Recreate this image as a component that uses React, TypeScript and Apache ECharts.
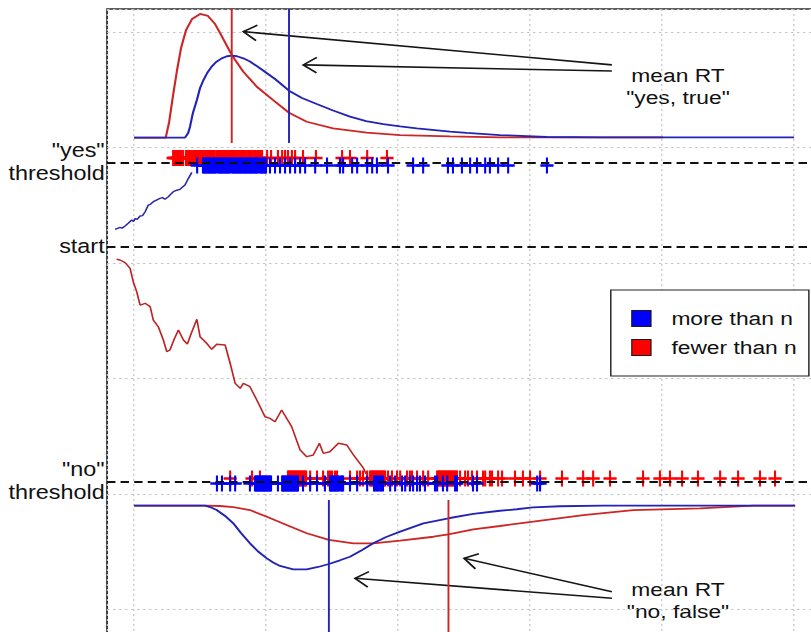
import React, { useEffect, useRef } from "react";
import * as echarts from "echarts";

// The original picture is horizontally stretched; the chart is drawn at 676px and stretched by SX.
const SX = 1.2;
const FONT = "'Liberation Sans', Arial, Helvetica, sans-serif";

// ---- axes (x: time in s, y: evidence in grid units) ----
const xMin = -0.1023;
const xMax = 3.0;
const yMin = -2.4;
const yMax = 3.2;

// ---- levels ----
const thresholdYes = 1.874;
const startLevel = 1.136;
const thresholdNo = -0.894;
const rugYesRedLevel = 1.909;
const rugYesBlueLevel = 1.844;
const rugNoRedLevel = -0.866;
const rugNoBlueLevel = -0.909;
const yesMeanLineFrom = 2.039;
const noMeanLineFrom = -1.052;

// ---- mean RTs ----
const meanYesBlue = 0.587;
const meanYesRed = 0.37;
const meanNoBlue = 0.738;
const meanNoRed = 1.191;

// ---- RT distributions, "yes" (upper) ----
const yesRedCurve = [
  [0, 2.085], [0.12, 2.085], [0.133, 2.221], [0.148, 2.455], [0.163, 2.671], [0.178, 2.861],
  [0.197, 3.017], [0.22, 3.113], [0.25, 3.156], [0.28, 3.139], [0.307, 3.069], [0.326, 2.991],
  [0.37, 2.801], [0.414, 2.656], [0.465, 2.526], [0.527, 2.411], [0.587, 2.301], [0.654, 2.223],
  [0.754, 2.166], [0.881, 2.128], [1.008, 2.108], [1.197, 2.097], [1.386, 2.088], [2.004, 2.088],
];
const yesBlueCurve = [
  [0, 2.085], [0.193, 2.085], [0.205, 2.126], [0.212, 2.18], [0.223, 2.299], [0.238, 2.411],
  [0.25, 2.515], [0.263, 2.584], [0.277, 2.645], [0.294, 2.7], [0.311, 2.74], [0.332, 2.772],
  [0.352, 2.79], [0.372, 2.795], [0.39, 2.79], [0.414, 2.772], [0.439, 2.745], [0.477, 2.686],
  [0.534, 2.593], [0.587, 2.492], [0.636, 2.429], [0.692, 2.377], [0.754, 2.32], [0.818, 2.267],
  [0.879, 2.229], [0.944, 2.203], [1.008, 2.182], [1.071, 2.166], [1.197, 2.137], [1.26, 2.126],
  [1.386, 2.108], [1.563, 2.091], [1.765, 2.088], [2.5, 2.088],
];

// ---- RT distributions, "no" (lower, drawn downward) ----
const noBlueCurve = [
  [0, -1.101], [0.269, -1.101], [0.288, -1.113], [0.313, -1.139], [0.345, -1.19], [0.376, -1.254],
  [0.405, -1.338], [0.439, -1.427], [0.47, -1.498], [0.503, -1.557], [0.527, -1.593], [0.553, -1.623],
  [0.603, -1.652], [0.654, -1.652], [0.697, -1.632], [0.738, -1.606], [0.78, -1.574], [0.818, -1.543],
  [0.864, -1.485], [0.906, -1.427], [0.955, -1.372], [1.008, -1.326], [1.096, -1.254], [1.191, -1.21],
  [1.285, -1.173], [1.386, -1.145], [1.45, -1.132], [1.511, -1.115], [1.614, -1.106], [1.777, -1.101],
  [2.504, -1.101],
];
const noRedCurve = [
  [0, -1.101], [0.269, -1.101], [0.326, -1.104], [0.376, -1.113], [0.439, -1.139], [0.503, -1.197],
  [0.578, -1.268], [0.654, -1.34], [0.738, -1.398], [0.831, -1.427], [0.906, -1.427], [1.008, -1.404],
  [1.134, -1.37], [1.191, -1.349], [1.285, -1.306], [1.386, -1.277], [1.512, -1.24], [1.702, -1.182],
  [1.891, -1.139], [2.144, -1.125], [2.346, -1.101], [2.504, -1.101],
];

// ---- sample diffusion paths ----
const pathBlue = [
  [-0.072, 1.292], [-0.053, 1.309], [-0.045, 1.302], [-0.034, 1.32], [-0.022, 1.344], [-0.009, 1.372],
  [-0.002, 1.36], [0.004, 1.384], [0.012, 1.378], [0.023, 1.407], [0.032, 1.41], [0.042, 1.444],
  [0.054, 1.502], [0.063, 1.51], [0.073, 1.531], [0.085, 1.545], [0.098, 1.56], [0.108, 1.566],
  [0.117, 1.552], [0.13, 1.574], [0.14, 1.598], [0.149, 1.617], [0.162, 1.63], [0.174, 1.638],
  [0.185, 1.66], [0.193, 1.675], [0.206, 1.733], [0.219, 1.785],
];
const pathRed = [
  [-0.066, 1.032], [-0.053, 1.026], [-0.034, 1.003], [-0.015, 0.954], [-0.003, 0.838], [0.01, 0.752],
  [0.023, 0.636], [0.042, 0.651], [0.061, 0.622], [0.073, 0.506], [0.092, 0.448], [0.111, 0.333],
  [0.124, 0.232], [0.136, 0.247], [0.152, 0.34], [0.168, 0.42], [0.187, 0.333], [0.202, 0.299],
  [0.219, 0.405], [0.238, 0.513], [0.25, 0.362], [0.275, 0.305], [0.294, 0.253], [0.313, 0.296],
  [0.345, 0.29], [0.364, 0.132], [0.383, -0.042], [0.402, -0.085], [0.414, -0.042], [0.439, -0.071],
  [0.465, -0.186], [0.496, -0.331], [0.515, -0.345], [0.534, -0.374], [0.559, -0.273], [0.597, -0.417],
  [0.629, -0.619], [0.654, -0.677], [0.679, -0.662], [0.702, -0.561], [0.717, -0.648], [0.742, -0.634],
  [0.774, -0.561], [0.806, -0.576], [0.831, -0.662], [0.869, -0.777], [0.879, -0.827],
];

// ---- single-trial RTs (rug marks) ----
const rtYesRed = [
  0.148, 0.151, 0.155, 0.159, 0.163, 0.166, 0.17, 0.174, 0.178, 0.186, 0.197, 0.201, 0.205, 0.209,
  0.212, 0.216, 0.223, 0.227, 0.231, 0.235, 0.239, 0.243, 0.246, 0.25, 0.254, 0.258, 0.262, 0.265,
  0.269, 0.273, 0.279, 0.284, 0.288, 0.292, 0.295, 0.299, 0.303, 0.311, 0.315, 0.318, 0.322, 0.326,
  0.33, 0.337, 0.341, 0.345, 0.351, 0.356, 0.361, 0.367, 0.371, 0.375, 0.381, 0.386, 0.392, 0.398,
  0.403, 0.409, 0.414, 0.42, 0.426, 0.432, 0.438, 0.443, 0.449, 0.455, 0.46, 0.466, 0.471, 0.477,
  0.481, 0.485, 0.504, 0.519, 0.545, 0.561, 0.572, 0.583, 0.598, 0.61, 0.64, 0.689, 0.788, 0.818,
  0.883, 0.958,
];
const rtYesBlue = [
  0.239, 0.261, 0.265, 0.269, 0.273, 0.277, 0.281, 0.284, 0.288, 0.292, 0.295, 0.299, 0.303, 0.307,
  0.311, 0.318, 0.322, 0.326, 0.33, 0.333, 0.337, 0.341, 0.345, 0.348, 0.352, 0.356, 0.36, 0.364,
  0.371, 0.375, 0.379, 0.383, 0.386, 0.39, 0.394, 0.398, 0.402, 0.405, 0.409, 0.413, 0.417, 0.42,
  0.424, 0.428, 0.432, 0.436, 0.44, 0.443, 0.447, 0.451, 0.455, 0.459, 0.462, 0.466, 0.47, 0.477,
  0.481, 0.485, 0.489, 0.493, 0.496, 0.5, 0.515, 0.534, 0.553, 0.572, 0.591, 0.61, 0.629, 0.648,
  0.686, 0.731, 0.78, 0.792, 0.826, 0.845, 0.883, 0.902, 0.92, 0.962, 1.057, 1.095, 1.189, 1.208,
  1.242, 1.273, 1.299, 1.33, 1.348, 1.379, 1.417, 1.564,
];
const rtNoRed = [
  0.364, 0.447, 0.477, 0.583, 0.587, 0.591, 0.595, 0.598, 0.602, 0.606, 0.61, 0.614, 0.617, 0.621,
  0.625, 0.629, 0.633, 0.636, 0.64, 0.644, 0.648, 0.652, 0.667, 0.693, 0.716, 0.735, 0.742, 0.75,
  0.761, 0.769, 0.818, 0.845, 0.856, 0.867, 0.883, 0.894, 0.898, 0.902, 0.905, 0.909, 0.913, 0.917,
  0.921, 0.924, 0.928, 0.932, 0.936, 0.939, 0.943, 0.947, 0.951, 0.962, 0.977, 0.996, 1.008, 1.034,
  1.045, 1.053, 1.072, 1.095, 1.114, 1.148, 1.152, 1.155, 1.159, 1.163, 1.167, 1.17, 1.174, 1.178,
  1.182, 1.186, 1.189, 1.193, 1.197, 1.201, 1.205, 1.208, 1.212, 1.216, 1.22, 1.223, 1.235, 1.254,
  1.265, 1.28, 1.299, 1.322, 1.33, 1.348, 1.356, 1.379, 1.394, 1.443, 1.473, 1.5, 1.538, 1.621,
  1.701, 1.739, 1.803, 1.928, 1.992, 2.03, 2.076, 2.136, 2.22, 2.288, 2.371, 2.428,
];
const rtNoBlue = [
  0.314, 0.333, 0.364, 0.383, 0.439, 0.458, 0.462, 0.466, 0.47, 0.473, 0.477, 0.481, 0.485, 0.489,
  0.492, 0.496, 0.5, 0.504, 0.508, 0.511, 0.515, 0.519, 0.545, 0.561, 0.564, 0.568, 0.572, 0.576,
  0.58, 0.583, 0.587, 0.591, 0.595, 0.598, 0.602, 0.606, 0.61, 0.614, 0.617, 0.621, 0.64, 0.667,
  0.693, 0.723, 0.742, 0.746, 0.75, 0.754, 0.758, 0.761, 0.765, 0.769, 0.773, 0.777, 0.784, 0.788,
  0.792, 0.818, 0.845, 0.883, 0.909, 0.913, 0.92, 0.924, 0.932, 0.936, 0.943, 0.97, 0.989, 1.015,
  1.027, 1.045, 1.057, 1.072, 1.083, 1.102, 1.14, 1.148, 1.17, 1.186, 1.216, 1.223, 1.284, 1.299,
  1.527, 1.538,
];

// ---- annotation arrows: [tipX, tipY, tailX, tailY] ----
const arrowsYes = [
  [0.414, 3.003, 1.81, 2.715],
  [0.641, 2.715, 1.81, 2.662],
];
const arrowsNo = [
  [1.25, -1.557, 1.81, -1.846],
  [0.837, -1.73, 1.81, -1.903],
];

const NAME_BLUE = "more than n";
const NAME_RED = "fewer than n";
const C_BLUE_CURVE = "#2323b4";
const C_RED_CURVE = "#cc2626";
const C_BLUE_RUG = "#0000ff";
const C_RED_RUG = "#ff0000";
const PLUS = "path://M5,0L5,10M0,5L10,5";

function lineSeries(name: string, data: number[][], color: string, width: number) {
  return {
    type: "line",
    name,
    data,
    symbol: "none",
    showSymbol: false,
    smooth: false,
    lineStyle: { color, width },
    itemStyle: { color },
    silent: true,
  };
}

function rugSeries(name: string, rts: number[], level: number, color: string) {
  return {
    type: "scatter",
    name,
    data: rts.map((t) => [t, level]),
    symbol: PLUS,
    symbolSize: [11, 16],
    itemStyle: { color, borderColor: color, borderWidth: 2.1, opacity: 1 },
    silent: true,
  };
}

function arrowSeries(data: number[][]) {
  return {
    type: "custom",
    data,
    clip: false,
    silent: true,
    encode: { x: [0, 2], y: [1, 3] },
    renderItem: (_params: any, api: any) => {
      const tip = api.coord([api.value(0), api.value(1)]);
      const tail = api.coord([api.value(2), api.value(3)]);
      const dx = (tail[0] - tip[0]) * SX;
      const dy = tail[1] - tip[1];
      const len = Math.hypot(dx, dy);
      const ux = dx / len;
      const uy = dy / len;
      const L = 15.5;
      const ang = Math.PI / 6;
      const arm = (sgn: number) => {
        const c = Math.cos(ang);
        const s = Math.sin(ang) * sgn;
        const vx = ux * c - uy * s;
        const vy = ux * s + uy * c;
        return [tip[0] + (vx * L) / SX, tip[1] + vy * L];
      };
      const style = { stroke: "#151515", lineWidth: 1.6, fill: null };
      return {
        type: "group",
        children: [
          { type: "line", shape: { x1: tip[0], y1: tip[1], x2: tail[0], y2: tail[1] }, style },
          { type: "polyline", shape: { points: [arm(1), tip, arm(-1)] }, style },
        ],
      };
    },
  };
}

export default function App() {
  const ref = useRef<HTMLDivElement>(null);

  useEffect(() => {
    if (!ref.current) return;
    const chart = echarts.init(ref.current, null, { renderer: "svg" });

    const thresholdLabel = {
      show: true,
      position: "start",
      distance: 2,
      fontSize: 19.5,
      lineHeight: 23,
      color: "#111",
      fontFamily: FONT,
    };

    const option: any = {
      animation: false,
      backgroundColor: "#ffffff",
      textStyle: { fontFamily: FONT },
      grid: {
        left: 89.2,
        top: 8.9,
        width: (xMax - xMin) * 220,
        height: (yMax - yMin) * 115.5,
        show: true,
        borderColor: "#2b2b2b",
        borderWidth: 1.5,
        backgroundColor: "transparent",
        containLabel: false,
        outerBoundsMode: "none",
      },
      xAxis: {
        type: "value",
        min: xMin,
        max: xMax,
        minInterval: 0.5,
        maxInterval: 0.5,
        axisLine: { show: false },
        axisTick: { show: false },
        axisLabel: { show: false },
        splitLine: { show: true, lineStyle: { color: "#c4c4c4", width: 1, type: [2, 3] } },
      },
      yAxis: {
        type: "value",
        min: yMin,
        max: yMax,
        minInterval: 1,
        maxInterval: 1,
        axisLine: { show: false },
        axisTick: { show: false },
        axisLabel: { show: false },
        splitLine: { show: true, lineStyle: { color: "#c4c4c4", width: 1, type: [2, 3] } },
      },
      legend: {
        orient: "vertical",
        left: 509,
        top: 290,
        padding: [19, 10, 19, 17],
        itemWidth: 16,
        itemHeight: 16,
        itemGap: 10,
        borderColor: "#222",
        borderWidth: 1.2,
        backgroundColor: "#fff",
        selectedMode: false,
        textStyle: { fontSize: 19, color: "#111", fontFamily: FONT, padding: [0, 0, 0, 12] },
        data: [
          { name: NAME_BLUE, icon: "rect", itemStyle: { color: C_BLUE_RUG, borderColor: "#1a1a1a", borderWidth: 1 } },
          { name: NAME_RED, icon: "rect", itemStyle: { color: C_RED_RUG, borderColor: "#1a1a1a", borderWidth: 1 } },
        ],
      },
      graphic: [
        {
          type: "text",
          x: 565,
          y: 86,
          silent: true,
          style: {
            text: 'mean RT\n"yes, true"',
            fontSize: 19,
            lineHeight: 22,
            fontFamily: FONT,
            fill: "#111",
            align: "center",
            verticalAlign: "middle",
            textAlign: "center",
            textVerticalAlign: "middle",
          },
        },
        {
          type: "text",
          x: 565,
          y: 600.5,
          silent: true,
          style: {
            text: 'mean RT\n"no, false"',
            fontSize: 19,
            lineHeight: 22,
            fontFamily: FONT,
            fill: "#111",
            align: "center",
            verticalAlign: "middle",
            textAlign: "center",
            textVerticalAlign: "middle",
          },
        },
      ],
      series: [
        lineSeries(NAME_RED, yesRedCurve, C_RED_CURVE, 1.8),
        lineSeries(NAME_BLUE, yesBlueCurve, C_BLUE_CURVE, 1.8),
        lineSeries(NAME_RED, noRedCurve, C_RED_CURVE, 1.8),
        lineSeries(NAME_BLUE, noBlueCurve, C_BLUE_CURVE, 1.8),
        lineSeries(NAME_RED, [[meanYesRed, yesMeanLineFrom], [meanYesRed, yMax]], C_RED_CURVE, 1.6),
        lineSeries(NAME_BLUE, [[meanYesBlue, yesMeanLineFrom], [meanYesBlue, yMax]], C_BLUE_CURVE, 1.6),
        lineSeries(NAME_BLUE, [[meanNoBlue, noMeanLineFrom], [meanNoBlue, yMin]], C_BLUE_CURVE, 1.6),
        lineSeries(NAME_RED, [[meanNoRed, noMeanLineFrom], [meanNoRed, yMin]], C_RED_CURVE, 1.6),
        lineSeries(NAME_BLUE, pathBlue, "#2a2aa8", 1.4),
        lineSeries(NAME_RED, pathRed, "#bb2424", 1.4),
        rugSeries(NAME_RED, rtYesRed, rugYesRedLevel, C_RED_RUG),
        rugSeries(NAME_RED, rtNoRed, rugNoRedLevel, C_RED_RUG),
        rugSeries(NAME_BLUE, rtYesBlue, rugYesBlueLevel, C_BLUE_RUG),
        rugSeries(NAME_BLUE, rtNoBlue, rugNoBlueLevel, C_BLUE_RUG),
        {
          type: "line",
          data: [],
          silent: true,
          markLine: {
            silent: true,
            symbol: ["none", "none"],
            animation: false,
            lineStyle: { color: "#111", width: 1.8, type: [7, 4.3] },
            label: thresholdLabel,
            emphasis: { disabled: true },
            data: [
              { yAxis: thresholdYes, label: { ...thresholdLabel, formatter: '"yes"\nthreshold' } },
              { yAxis: startLevel, label: { ...thresholdLabel, formatter: "start" } },
              { yAxis: thresholdNo, label: { ...thresholdLabel, formatter: '"no"\nthreshold' } },
            ],
          },
        },
        arrowSeries(arrowsYes),
        arrowSeries(arrowsNo),
      ],
    };

    chart.setOption(option);
    return () => chart.dispose();
  }, []);

  return (
    <div
      style={{
        position: "fixed",
        left: 0,
        top: 0,
        width: 811,
        height: 632,
        overflow: "hidden",
        background: "#fff",
      }}
    >
      <div
        ref={ref}
        style={{ width: 676, height: 632, transform: `scaleX(${SX})`, transformOrigin: "0 0" }}
      />
    </div>
  );
}
